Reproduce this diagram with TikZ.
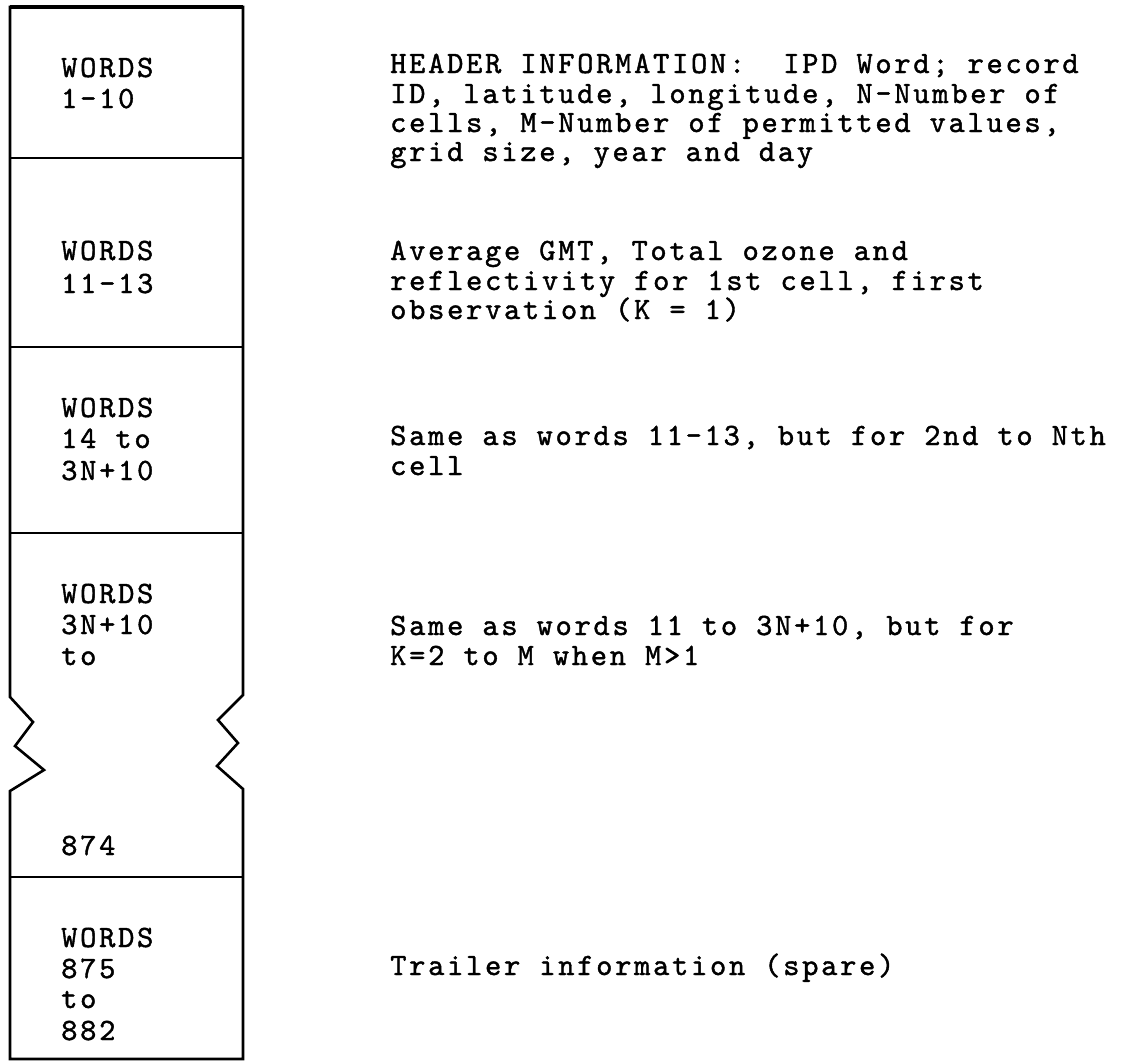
\documentclass[tikz,border=0pt]{standalone}
\usepackage{fontspec}
\newfontfamily\tw[LetterSpace=8.7,FakeBold=1.3]{lmmono10-regular.otf}
\tikzset{
  lbl/.style={anchor=base west, inner sep=0pt, font={\fontsize{31}{34}\tw}},
  rule/.style={line width=2.6pt, line join=miter},
}
\begin{document}
\begin{tikzpicture}[x=1pt,y=-1pt]
\useasboundingbox[fill=white] (0,0) rectangle (1146,1061);
% outer outline with break marks
\draw[rule] (10,7) -- (243,7) -- (243,695) -- (218,720) -- (238,743) -- (217,766) -- (243,789)
  -- (243,1059) -- (10,1059) -- (10,791) -- (44,770) -- (15,746) -- (33,722) -- (10,697) -- cycle;
\draw[line width=3.4pt] (10,7) -- (243,7);
% dividers
\draw[rule] (10,158) -- (243,158);
\draw[rule] (10,347) -- (243,347);
\draw[rule] (10,533) -- (243,533);
\draw[rule] (10,877) -- (243,877);
% left labels
\node[lbl] (w1a) at (61,77) {WORDS};
\node[lbl] (w1b) at (61,108) {1-10};
\node[lbl] (w2a) at (61,260) {WORDS};
\node[lbl] (w2b) at (61,293) {11-13};
\node[lbl] (w3a) at (61,417) {WORDS};
\node[lbl] (w3b) at (61,448) {14 to};
\node[lbl] (w3c) at (61,480) {3N+10};
\node[lbl] (w4a) at (61,603) {WORDS};
\node[lbl] (w4b) at (61,634) {3N+10};
\node[lbl] (w4c) at (61,665) {to};
\node[lbl] (w4d) at (61,855) {874};
\node[lbl] (w5a) at (61,947) {WORDS};
\node[lbl] (w5b) at (61,978) {875};
\node[lbl] (w5c) at (61,1008) {to};
\node[lbl] (w5d) at (61,1040) {882};
% right descriptions
\node[lbl] (h1) at (390,73) {HEADER INFORMATION:\ \ IPD Word; record};
\node[lbl] (h2) at (390,103) {ID, latitude, longitude, N-Number of};
\node[lbl] (h3) at (390,132) {cells, M-Number of permitted values,};
\node[lbl] (h4) at (390,161) {grid size, year and day};
\node[lbl] (a1) at (390,260) {Average GMT, Total ozone and};
\node[lbl] (a2) at (390,290) {reflectivity for 1st cell, first};
\node[lbl] (a3) at (390,319) {observation (K = 1)};
\node[lbl] (s1) at (390,445) {Same as words 11-13, but for 2nd to Nth};
\node[lbl] (s2) at (390,475) {cell};
\node[lbl] (t1) at (390,635) {Same as words 11 to 3N+10, but for};
\node[lbl] (t2) at (390,665) {K=2 to M when M>1};
\node[lbl] (tr) at (390,975) {Trailer information (spare)};
\end{tikzpicture}
\end{document}
